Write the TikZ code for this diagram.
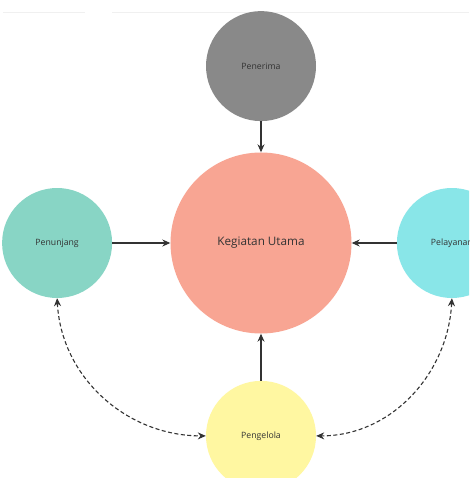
\documentclass[tikz,border=0pt]{standalone}
\usepackage{fontspec}
\setmainfont{Open Sans}
\usepackage{xcolor}
\usetikzlibrary{arrows.meta, positioning}

\definecolor{graypen}{HTML}{898989}
\definecolor{salmon}{HTML}{F8A593}
\definecolor{mint}{HTML}{88D5C5}
\definecolor{aqua}{HTML}{89E6E8}
\definecolor{lemon}{HTML}{FFF7A1}
\definecolor{inkgray}{HTML}{333333}

\begin{document}
\begin{tikzpicture}[
    x=1pt, y=-1pt,
    every node/.style={circle, inner sep=0pt, text=inkgray},
    small/.style={minimum size=110pt, font=\fontsize{8.7}{10}\selectfont},
    big/.style={minimum size=181pt, font=\fontsize{11.7}{13}\selectfont},
    arrow/.style={-{Stealth[length=8pt, width=7pt]}, draw=inkgray, line width=1.1pt},
    dasharrow/.style={{Stealth[length=8pt, width=7pt]}-{Stealth[length=8pt, width=7pt]}, draw=inkgray, line width=1.1pt, dash pattern=on 4pt off 2.5pt}
]

\clip (0,0) rectangle (469,478);
\fill[white] (0,0) rectangle (469,478);
\draw[black!6, line width=0.6pt] (3,12) -- (85,12) (112,12) -- (469,12);

% Nodes
\node[big, fill=salmon] (K) at (261,243) {Kegiatan Utama};
\node[small, fill=graypen] (Pe) [above=31pt of K] {Penerima};
\node[small, fill=mint] (Pu) [left=58pt of K] {Penunjang};
\node[small, fill=aqua] (Pl) [right=45pt of K] {Pelayanan};
\node[small, fill=lemon] (Pg) [below=47pt of K] {Pengelola};

% Arrows
\draw[arrow] (Pe) -- (K);
\draw[arrow] (Pu) -- (K);
\draw[arrow] (Pl) -- (K);
\draw[arrow] (Pg) -- (K);

% Dashed links
\draw[dasharrow] (Pu.south) to[out=-87, in=180] (Pg.west);
\draw[dasharrow] (Pl.south) to[out=-93, in=0] (Pg.east);

\end{tikzpicture}
\end{document}
